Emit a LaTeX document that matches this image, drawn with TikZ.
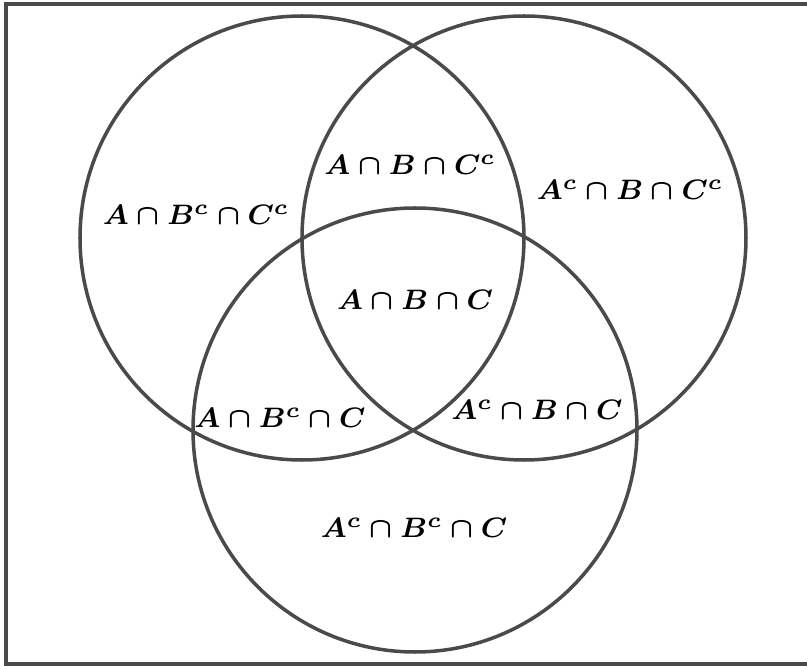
\documentclass[tikz,border=0pt]{standalone}
\usepackage{amsmath,amssymb}
\usepackage{tikz}
\definecolor{ln}{HTML}{4A4A4A}
\newcommand{\bs}[1]{\boldsymbol{#1}}

\begin{document}
\begin{tikzpicture}[
  set/.style={draw=ln,line width=1pt},
  lab/.style={font=\footnotesize},
]
\useasboundingbox (0,0) rectangle (8.07,6.66);
\clip (0,0) rectangle (8.07,6.66);
\draw[ln,line width=1.1pt] (0.06,0.02) rectangle (9,6.62);

\draw[set] (3.02,4.28) circle (2.22);
\draw[set] (5.24,4.28) circle (2.22);
\draw[set] (4.15,2.36) circle (2.22);

\node[lab] (abcc) at (1.96,4.51) {$\bs{A\cap B^c\cap C^c}$};
\node[lab] (abc1) at (4.10,5.01) {$\bs{A\cap B\cap C^c}$};
\node[lab] (acbc) at (6.30,4.76) {$\bs{A^c\cap B\cap C^c}$};
\node[lab] (abc) at (4.15,3.66) {$\bs{A\cap B\cap C}$};
\node[lab] (abcc2) at (2.80,2.48) {$\bs{A\cap B^c\cap C}$};
\node[lab] (acbc2) at (5.37,2.56) {$\bs{A^c\cap B\cap C}$};
\node[lab] (acbcc) at (4.14,1.38) {$\bs{A^c\cap B^c\cap C}$};
\end{tikzpicture}
\end{document}
